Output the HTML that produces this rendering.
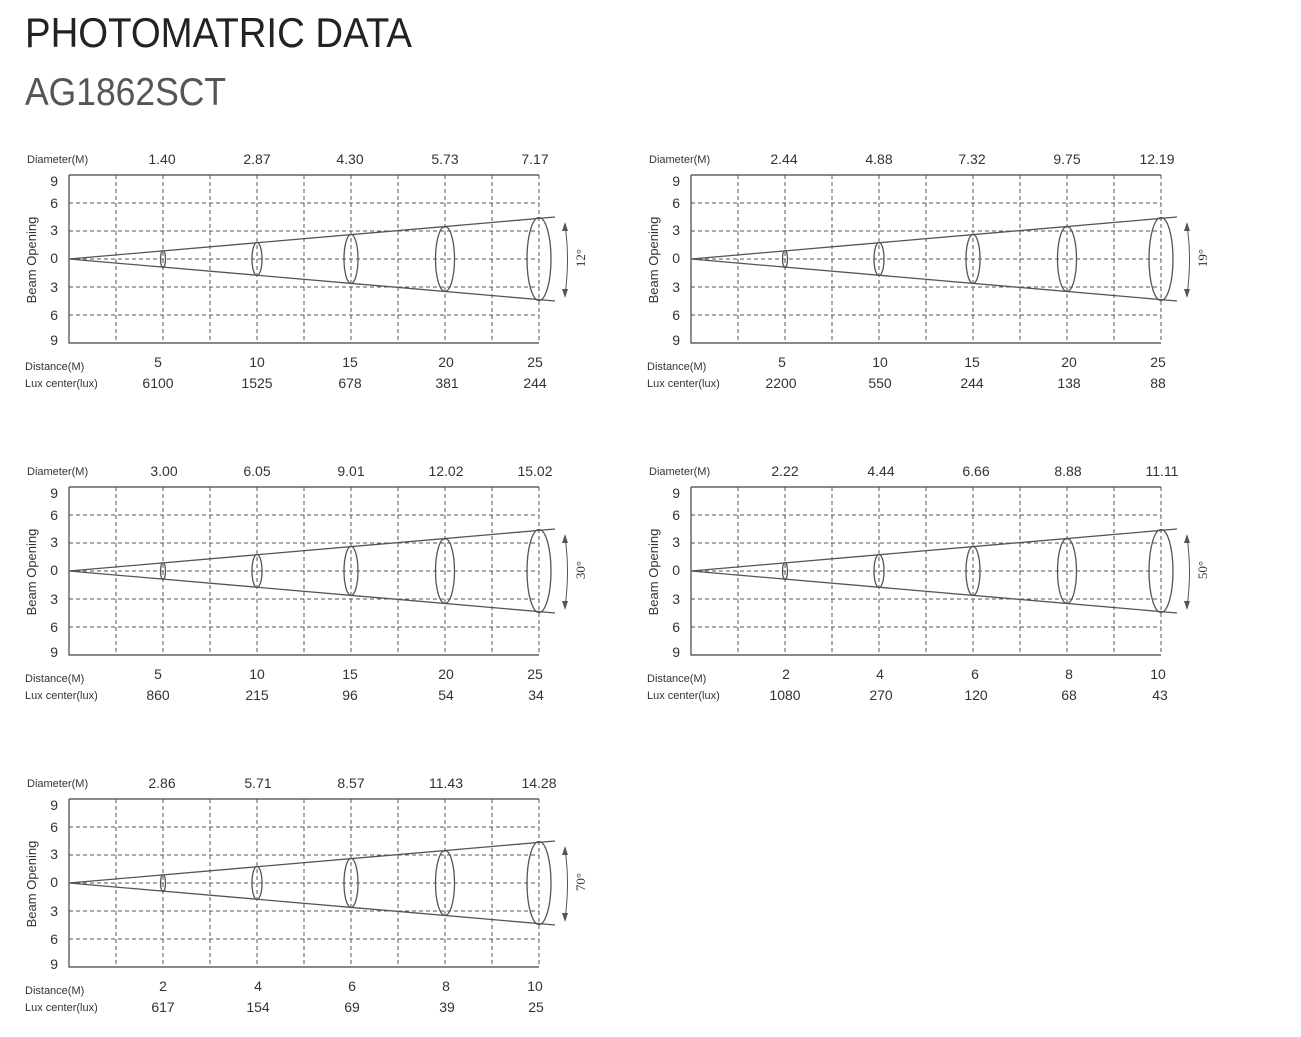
<!DOCTYPE html>
<html><head><meta charset="utf-8"><style>
html,body{margin:0;padding:0;background:#fff;}
svg{display:block;}
text{font-family:"Liberation Sans",sans-serif;fill:#333;}
.v{font-size:14px;text-anchor:middle;}
.s{font-size:11px;}
.y{font-size:14px;text-anchor:end;}
.g{stroke:#555;stroke-width:1;stroke-dasharray:4,3;fill:none;}
.a{stroke:#444;stroke-width:1.2;fill:none;}
.c{stroke:#555;stroke-width:1.3;fill:none;}
</style></head><body>
<svg width="1301" height="1037" viewBox="0 0 1301 1037" xmlns="http://www.w3.org/2000/svg">
<defs>
<g id="gr">
<path class="g" d="M69 203H539M69 231H539M69 259H539M69 287H539M69 315H539M116 175V343M163 175V343M210 175V343M257 175V343M304 175V343M351 175V343M398 175V343M445 175V343M492 175V343M539 175V343"/>
<path class="a" d="M69 175H539M69 175V343H539"/>
<path class="c" d="M69 259L555 217M69 259L555 301"/>
<ellipse class="c" cx="163" cy="259" rx="2.5" ry="8.5"/>
<ellipse class="c" cx="257" cy="259" rx="5" ry="16.5"/>
<ellipse class="c" cx="351" cy="259" rx="7" ry="24.5"/>
<ellipse class="c" cx="445" cy="259" rx="9.5" ry="32.5"/>
<ellipse class="c" cx="539" cy="259" rx="12" ry="41.5"/>
<path d="M565 225Q570 259 565 295" stroke="#555" stroke-width="1" fill="none"/>
<path d="M562 231L565 222L568 231ZM562 289L565 298L568 289Z" fill="#555"/>
</g>
</defs>

<text x="25" y="47" style="font-size:42px;fill:#222" textLength="387" lengthAdjust="spacingAndGlyphs">PHOTOMATRIC DATA</text>
<text x="25" y="105" style="font-size:39px;fill:#555" textLength="201" lengthAdjust="spacingAndGlyphs">AG1862SCT</text>

<!-- chart 1 -->
<g transform="translate(0,0)">
<use href="#gr"/>
<text class="s" x="27" y="163">Diameter(M)</text>
<text class="v" x="162" y="164">1.40</text><text class="v" x="257" y="164">2.87</text><text class="v" x="350" y="164">4.30</text><text class="v" x="445" y="164">5.73</text><text class="v" x="535" y="164">7.17</text>
<text class="y" x="58" y="186">9</text><text class="y" x="58" y="208">6</text><text class="y" x="58" y="235">3</text><text class="y" x="58" y="263">0</text><text class="y" x="58" y="292">3</text><text class="y" x="58" y="320">6</text><text class="y" x="58" y="345">9</text>
<text transform="translate(36,260) rotate(-90)" style="font-size:13px;text-anchor:middle">Beam Opening</text>
<text transform="translate(585,258) rotate(-90)" style="font-family:'Liberation Serif',serif;font-size:13px;text-anchor:middle">12°</text>
<text class="s" x="25" y="370">Distance(M)</text><text class="s" x="25" y="387">Lux center(lux)</text>
<text class="v" x="158" y="367">5</text><text class="v" x="257" y="367">10</text><text class="v" x="350" y="367">15</text><text class="v" x="446" y="367">20</text><text class="v" x="535" y="367">25</text>
<text class="v" x="158" y="388">6100</text><text class="v" x="257" y="388">1525</text><text class="v" x="350" y="388">678</text><text class="v" x="447" y="388">381</text><text class="v" x="535" y="388">244</text>
</g>

<!-- chart 2 -->
<g transform="translate(622,0)">
<use href="#gr"/>
<text class="s" x="27" y="163">Diameter(M)</text>
<text class="v" x="162" y="164">2.44</text><text class="v" x="257" y="164">4.88</text><text class="v" x="350" y="164">7.32</text><text class="v" x="445" y="164">9.75</text><text class="v" x="535" y="164">12.19</text>
<text class="y" x="58" y="186">9</text><text class="y" x="58" y="208">6</text><text class="y" x="58" y="235">3</text><text class="y" x="58" y="263">0</text><text class="y" x="58" y="292">3</text><text class="y" x="58" y="320">6</text><text class="y" x="58" y="345">9</text>
<text transform="translate(36,260) rotate(-90)" style="font-size:13px;text-anchor:middle">Beam Opening</text>
<text transform="translate(585,258) rotate(-90)" style="font-family:'Liberation Serif',serif;font-size:13px;text-anchor:middle">19°</text>
<text class="s" x="25" y="370">Distance(M)</text><text class="s" x="25" y="387">Lux center(lux)</text>
<text class="v" x="160" y="367">5</text><text class="v" x="258" y="367">10</text><text class="v" x="350" y="367">15</text><text class="v" x="447" y="367">20</text><text class="v" x="536" y="367">25</text>
<text class="v" x="159" y="388">2200</text><text class="v" x="258" y="388">550</text><text class="v" x="350" y="388">244</text><text class="v" x="447" y="388">138</text><text class="v" x="536" y="388">88</text>
</g>

<!-- chart 3 -->
<g transform="translate(0,312)">
<use href="#gr"/>
<text class="s" x="27" y="163">Diameter(M)</text>
<text class="v" x="164" y="164">3.00</text><text class="v" x="257" y="164">6.05</text><text class="v" x="351" y="164">9.01</text><text class="v" x="446" y="164">12.02</text><text class="v" x="535" y="164">15.02</text>
<text class="y" x="58" y="186">9</text><text class="y" x="58" y="208">6</text><text class="y" x="58" y="235">3</text><text class="y" x="58" y="263">0</text><text class="y" x="58" y="292">3</text><text class="y" x="58" y="320">6</text><text class="y" x="58" y="345">9</text>
<text transform="translate(36,260) rotate(-90)" style="font-size:13px;text-anchor:middle">Beam Opening</text>
<text transform="translate(585,258) rotate(-90)" style="font-family:'Liberation Serif',serif;font-size:13px;text-anchor:middle">30°</text>
<text class="s" x="25" y="370">Distance(M)</text><text class="s" x="25" y="387">Lux center(lux)</text>
<text class="v" x="158" y="367">5</text><text class="v" x="257" y="367">10</text><text class="v" x="350" y="367">15</text><text class="v" x="446" y="367">20</text><text class="v" x="535" y="367">25</text>
<text class="v" x="158" y="388">860</text><text class="v" x="257" y="388">215</text><text class="v" x="350" y="388">96</text><text class="v" x="446" y="388">54</text><text class="v" x="536" y="388">34</text>
</g>

<!-- chart 4 -->
<g transform="translate(622,312)">
<use href="#gr"/>
<text class="s" x="27" y="163">Diameter(M)</text>
<text class="v" x="163" y="164">2.22</text><text class="v" x="259" y="164">4.44</text><text class="v" x="354" y="164">6.66</text><text class="v" x="446" y="164">8.88</text><text class="v" x="540" y="164">11.11</text>
<text class="y" x="58" y="186">9</text><text class="y" x="58" y="208">6</text><text class="y" x="58" y="235">3</text><text class="y" x="58" y="263">0</text><text class="y" x="58" y="292">3</text><text class="y" x="58" y="320">6</text><text class="y" x="58" y="345">9</text>
<text transform="translate(36,260) rotate(-90)" style="font-size:13px;text-anchor:middle">Beam Opening</text>
<text transform="translate(585,258) rotate(-90)" style="font-family:'Liberation Serif',serif;font-size:13px;text-anchor:middle">50°</text>
<text class="s" x="25" y="370">Distance(M)</text><text class="s" x="25" y="387">Lux center(lux)</text>
<text class="v" x="164" y="367">2</text><text class="v" x="258" y="367">4</text><text class="v" x="353" y="367">6</text><text class="v" x="447" y="367">8</text><text class="v" x="536" y="367">10</text>
<text class="v" x="163" y="388">1080</text><text class="v" x="259" y="388">270</text><text class="v" x="354" y="388">120</text><text class="v" x="447" y="388">68</text><text class="v" x="538" y="388">43</text>
</g>

<!-- chart 5 -->
<g transform="translate(0,624)">
<use href="#gr"/>
<text class="s" x="27" y="163">Diameter(M)</text>
<text class="v" x="162" y="164">2.86</text><text class="v" x="258" y="164">5.71</text><text class="v" x="351" y="164">8.57</text><text class="v" x="446" y="164">11.43</text><text class="v" x="539" y="164">14.28</text>
<text class="y" x="58" y="186">9</text><text class="y" x="58" y="208">6</text><text class="y" x="58" y="235">3</text><text class="y" x="58" y="263">0</text><text class="y" x="58" y="292">3</text><text class="y" x="58" y="320">6</text><text class="y" x="58" y="345">9</text>
<text transform="translate(36,260) rotate(-90)" style="font-size:13px;text-anchor:middle">Beam Opening</text>
<text transform="translate(585,258) rotate(-90)" style="font-family:'Liberation Serif',serif;font-size:13px;text-anchor:middle">70°</text>
<text class="s" x="25" y="370">Distance(M)</text><text class="s" x="25" y="387">Lux center(lux)</text>
<text class="v" x="163" y="367">2</text><text class="v" x="258" y="367">4</text><text class="v" x="352" y="367">6</text><text class="v" x="446" y="367">8</text><text class="v" x="535" y="367">10</text>
<text class="v" x="163" y="388">617</text><text class="v" x="258" y="388">154</text><text class="v" x="352" y="388">69</text><text class="v" x="447" y="388">39</text><text class="v" x="536" y="388">25</text>
</g>
</svg>
</body></html>
